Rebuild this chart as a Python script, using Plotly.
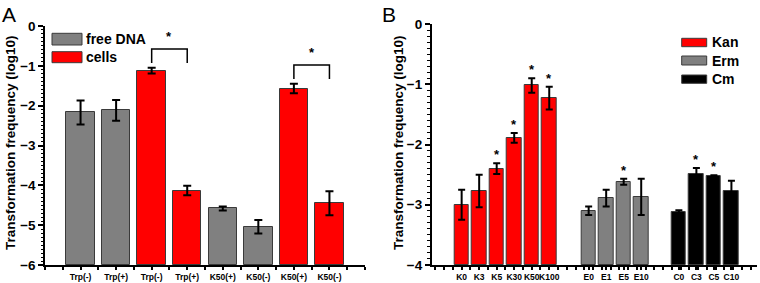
import plotly.graph_objects as go

# ---------------- data ----------------
a_labels = ["Trp(-)", "Trp(+)", "Trp(-)", "Trp(+)", "K50(+)", "K50(-)", "K50(+)", "K50(-)"]
a_values = [-2.17, -2.12, -1.12, -4.13, -4.58, -5.04, -1.57, -4.45]
a_errors = [0.30, 0.26, 0.07, 0.12, 0.05, 0.17, 0.12, 0.30]
a_groups = ["free DNA", "free DNA", "cells", "cells", "free DNA", "free DNA", "cells", "cells"]
a_sig_pairs = [(2, 3), (6, 7)]

kan_labels = ["K0", "K3", "K5", "K30", "K50", "K100"]
kan_values = [-3.00, -2.77, -2.40, -1.89, -1.02, -1.23]
kan_errors = [0.25, 0.27, 0.09, 0.08, 0.12, 0.19]
kan_sig = [False, False, True, True, True, True]

erm_labels = ["E0", "E1", "E5", "E10"]
erm_values = [-3.10, -2.89, -2.62, -2.87]
erm_errors = [0.07, 0.14, 0.05, 0.30]
erm_sig = [False, False, True, False]

cm_labels = ["C0", "C3", "C5", "C10"]
cm_values = [-3.12, -2.49, -2.53, -2.78]
cm_errors = [0.03, 0.10, 0.02, 0.18]
cm_sig = [False, True, True, False]

# ---------------- styling / layout constants ----------------
W, H = 760, 283
ML, MR, MT, MB = 45, 3, 24, 18
PW, PH = W - ML - MR, H - MT - MB
FONT = "Liberation Sans, Arial, sans-serif"
GRAY = "#808080"
RED = "#ff0000"
BLACK = "#000000"
OUTLINE = "#3a3a3a"
COLORS = {"free DNA": GRAY, "cells": RED}
A_BASE = -6
B_BASE = -4
B_GROUP_START = [1.0, 8.25, 13.4]


def px(xp):
    return (xp - ML) / PW


def py(yp):
    return (H - MB - yp) / PH


fig = go.Figure()

# ---------------- panel A ----------------
a_x = list(range(1, len(a_labels) + 1))
fig.add_trace(go.Bar(
    x=a_x, y=[v - A_BASE for v in a_values], base=A_BASE,
    marker=dict(color=[COLORS[g] for g in a_groups], line=dict(color=OUTLINE, width=1)),
    width=0.8,
    error_y=dict(type="data", array=a_errors, color="black", thickness=2, width=4),
    xaxis="x", yaxis="y", showlegend=False,
))

# significance brackets
for i, j in a_sig_pairs:
    top_err = max(a_values[i] + a_errors[i], a_values[j] + a_errors[j])
    leg = top_err + 0.12
    top = leg + 0.35
    fig.add_trace(go.Scatter(
        x=[a_x[i], a_x[i], a_x[j], a_x[j]], y=[leg, top, top, leg],
        mode="lines", line=dict(color="black", width=1.5),
        xaxis="x", yaxis="y", showlegend=False, hoverinfo="skip",
    ))
    fig.add_annotation(x=(a_x[i] + a_x[j]) / 2, y=top + 0.08, xref="x", yref="y",
                       text="*", showarrow=False, yanchor="bottom",
                       font=dict(family=FONT, size=13, color="black", weight="bold"))

# ---------------- panel B ----------------
groups_b = [
    (kan_labels, kan_values, kan_errors, kan_sig, RED),
    (erm_labels, erm_values, erm_errors, erm_sig, GRAY),
    (cm_labels, cm_values, cm_errors, cm_sig, BLACK),
]
b_tickvals, b_ticktext = [], []
for (labels, vals, errs, sig, col), start in zip(groups_b, B_GROUP_START):
    xs = [start + k for k in range(len(labels))]
    b_tickvals += xs
    b_ticktext += labels
    fig.add_trace(go.Bar(
        x=xs, y=[v - B_BASE for v in vals], base=B_BASE,
        marker=dict(color=col, line=dict(color=OUTLINE, width=1)),
        width=0.83,
        error_y=dict(type="data", array=errs, color="black", thickness=2, width=3.5),
        xaxis="x2", yaxis="y2", showlegend=False,
    ))
    for xv, v, e, s in zip(xs, vals, errs, sig):
        if s:
            fig.add_annotation(x=xv, y=v + e - 0.02, xref="x2", yref="y2",
                               text="*", showarrow=False, yanchor="bottom",
                               font=dict(family=FONT, size=13, color="black", weight="bold"))

# ---------------- axes ----------------
tickfont_y = dict(family=FONT, size=13.5, color="black", weight="bold")
tickfont_x = dict(family=FONT, size=8.5, color="black", weight="bold")
common_y = dict(showgrid=False, zeroline=False, showline=True, linecolor="black", linewidth=1.5,
                ticks="outside", ticklen=5, tickwidth=1.5, tickcolor="black", dtick=1,
                tickfont=tickfont_y, automargin=False,
                minor=dict(ticks="outside", ticklen=2.5, tickwidth=1, tickcolor="black", dtick=0.1))
common_x = dict(showgrid=False, zeroline=False, showline=True, linecolor="black", linewidth=1.5,
                ticks="outside", ticklen=3, tickwidth=1.5, tickcolor="black",
                tickfont=tickfont_x, tickangle=0, automargin=False,
                minor=dict(ticks="outside", ticklen=3, tickwidth=1.5, tickcolor="black",
                           dtick=0.5, tick0=0.5))

fig.update_layout(
    width=W, height=H,
    margin=dict(l=ML, r=MR, t=MT, b=MB, autoexpand=False),
    plot_bgcolor="white", paper_bgcolor="white",
    bargap=0,
    xaxis=dict(domain=[0, px(365)], range=[0, len(a_labels) + 1],
               tickvals=a_x, ticktext=a_labels, anchor="y", **common_x),
    yaxis=dict(domain=[0, py(26)], range=[A_BASE, 0], anchor="x", **common_y),
    xaxis2=dict(domain=[px(431.7), 1], range=[-0.71, 17.86],
                tickvals=b_tickvals, ticktext=b_ticktext, anchor="y2", **common_x),
    yaxis2=dict(domain=[0, 1], range=[B_BASE, 0], anchor="x2", **common_y),
    font=dict(family=FONT, color="black"),
)

# axis titles
for xpix in (10, 398):
    fig.add_annotation(x=px(xpix), y=py(143), xref="paper", yref="paper",
                       text="Transformation frequency (log10)", textangle=-90,
                       showarrow=False, xanchor="center", yanchor="middle",
                       font=dict(family=FONT, size=13.5, color="black", weight="bold"))

# panel letters
for letter, xpix in (("A", 0), ("B", 380)):
    fig.add_annotation(x=px(xpix), y=py(1), xref="paper", yref="paper", text=letter,
                       showarrow=False, xanchor="left", yanchor="top",
                       font=dict(family=FONT, size=21, color="black"))

# legends (drawn manually)
legend_a = [("free DNA", GRAY, 33.3, 45), ("cells", RED, 51.7, 62.7)]
for name, col, y0, y1 in legend_a:
    fig.add_shape(type="rect", xref="paper", yref="paper", x0=px(52), x1=px(82),
                  y0=py(y1), y1=py(y0), fillcolor=col, line=dict(color=OUTLINE, width=1))
    fig.add_annotation(x=px(84), y=py((y0 + y1) / 2), xref="paper", yref="paper", text=name,
                       showarrow=False, xanchor="left", yanchor="middle",
                       font=dict(family=FONT, size=14, color="black", weight="bold"))

legend_b = [("Kan", RED, 38.3, 46.7), ("Erm", GRAY, 56, 65), ("Cm", BLACK, 75, 83.3)]
for name, col, y0, y1 in legend_b:
    fig.add_shape(type="rect", xref="paper", yref="paper", x0=px(681.7), x1=px(706.7),
                  y0=py(y1), y1=py(y0), fillcolor=col, line=dict(color=OUTLINE, width=1))
    fig.add_annotation(x=px(710), y=py((y0 + y1) / 2), xref="paper", yref="paper", text=name,
                       showarrow=False, xanchor="left", yanchor="middle",
                       font=dict(family=FONT, size=14, color="black", weight="bold"))

fig.write_html("out.html", config={"displayModeBar": False},
               post_script="document.body.style.margin='0';document.body.style.padding='0';")
